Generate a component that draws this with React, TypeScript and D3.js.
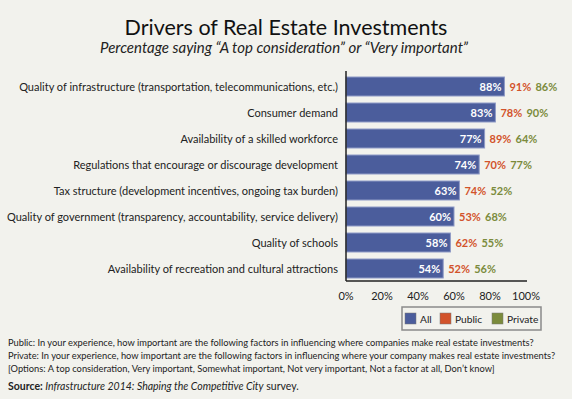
import React, { useEffect } from "react";
import * as d3 from "d3";

const categories = [
  "Quality of infrastructure (transportation, telecommunications, etc.)",
  "Consumer demand",
  "Availability of a skilled workforce",
  "Regulations that encourage or discourage development",
  "Tax structure (development incentives, ongoing tax burden)",
  "Quality of government (transparency, accountability, service delivery)",
  "Quality of schools",
  "Availability of recreation and cultural attractions",
];
const allValues = [88, 83, 77, 74, 63, 60, 58, 54];
const publicValues = [91, 78, 89, 70, 74, 53, 62, 52];
const privateValues = [86, 90, 64, 77, 52, 68, 55, 56];
const ticks = [0, 20, 40, 60, 80, 100];
const legendItems = ["All", "Public", "Private"];

const footnotes = [
  "Public: In your experience, how important are the following factors in influencing where companies make real estate investments?",
  "Private: In your experience, how important are the following factors in influencing where your company makes real estate investments?",
  "[Options: A top consideration, Very important, Somewhat important, Not very important, Not a factor at all, Don\u2019t know]",
];

const W = 572;
const H = 399;
const BLUE = "#4b5d9c";
const RED = "#d2532b";
const GREEN = "#7b8b3c";
const FONT = "Lato, 'Noto Sans', sans-serif";

export default function App() {
  useEffect(() => {
    document.body.style.margin = "0";
  }, []);

  const x = d3.scaleLinear().domain([0, 100]).range([346, 526]);
  const y = d3
    .scaleBand<string>()
    .domain(categories)
    .range([73.5, 281.5])
    .paddingInner(0.27)
    .paddingOuter(0.135);
  const colors = d3.scaleOrdinal<string, string>().domain(legendItems).range([BLUE, RED, GREEN]);

  return (
    <svg width={W} height={H} style={{ display: "block", background: "#f2f2ed" }} fontFamily={FONT}>
      <rect width={W} height={H} fill="#f2f2ed" />
      <text x={286} y={35} textAnchor="middle" fontSize={21.5} fill="#111">
        Drivers of Real Estate Investments
      </text>
      <text x={284} y={53} textAnchor="middle" fontSize={15} fontStyle="italic" fill="#222">
        Percentage saying “A top consideration” or “Very important”
      </text>

      {categories.map((c, i) => {
        const yc = (y(c) ?? 0) + y.bandwidth() / 2;
        const end = x(allValues[i]);
        return (
          <g key={c}>
            <text x={338} y={yc + 4} textAnchor="end" fontSize={11} fill="#222">
              {c}
            </text>
            <rect
              x={x(0)}
              y={y(c)}
              width={end - x(0)}
              height={y.bandwidth()}
              fill={BLUE}
              stroke="#8e9ac6"
              strokeWidth={1}
            />
            <text x={end - 3} y={yc + 4} textAnchor="end" fontSize={11} fontWeight="bold" fill="#fff">
              {allValues[i]}%
            </text>
            <text x={end + 5} y={yc + 4} fontSize={11} fontWeight="bold" fill={RED}>
              {publicValues[i]}%
            </text>
            <text x={end + 31} y={yc + 4} fontSize={11} fontWeight="bold" fill={GREEN}>
              {privateValues[i]}%
            </text>
          </g>
        );
      })}

      <line x1={x(0)} x2={x(0)} y1={71} y2={281} stroke="#222" strokeWidth={1.5} />
      <line x1={x(0)} x2={x(100) + 1} y1={281} y2={281} stroke="#222" strokeWidth={1.5} />
      {ticks.map((t) => (
        <text key={t} x={x(t)} y={300} textAnchor="middle" fontSize={11} fill="#222">
          {t}%
        </text>
      ))}

      <rect x={402} y={307} width={139} height={23} fill="none" stroke="#8a8a8a" strokeWidth={1.5} />
      {legendItems.map((l, i) => {
        const lx = [405, 440, 492][i];
        return (
          <g key={l}>
            <rect x={lx} y={313} width={11} height={11} fill={colors(l)} stroke="#777" strokeWidth={0.5} />
            <text x={lx + 15} y={322.5} fontSize={10.2} fill="#222">
              {l}
            </text>
          </g>
        );
      })}

      {footnotes.map((f, i) => (
        <text key={i} x={8} y={346 + i * 13} fontSize={9.3} fill="#222">
          {f}
        </text>
      ))}
      <text x={8} y={390} fontSize={10.5} fill="#222">
        <tspan fontWeight="bold">Source:</tspan>
        <tspan fontStyle="italic"> Infrastructure 2014: Shaping the Competitive City</tspan>
        <tspan> survey.</tspan>
      </text>
    </svg>
  );
}
